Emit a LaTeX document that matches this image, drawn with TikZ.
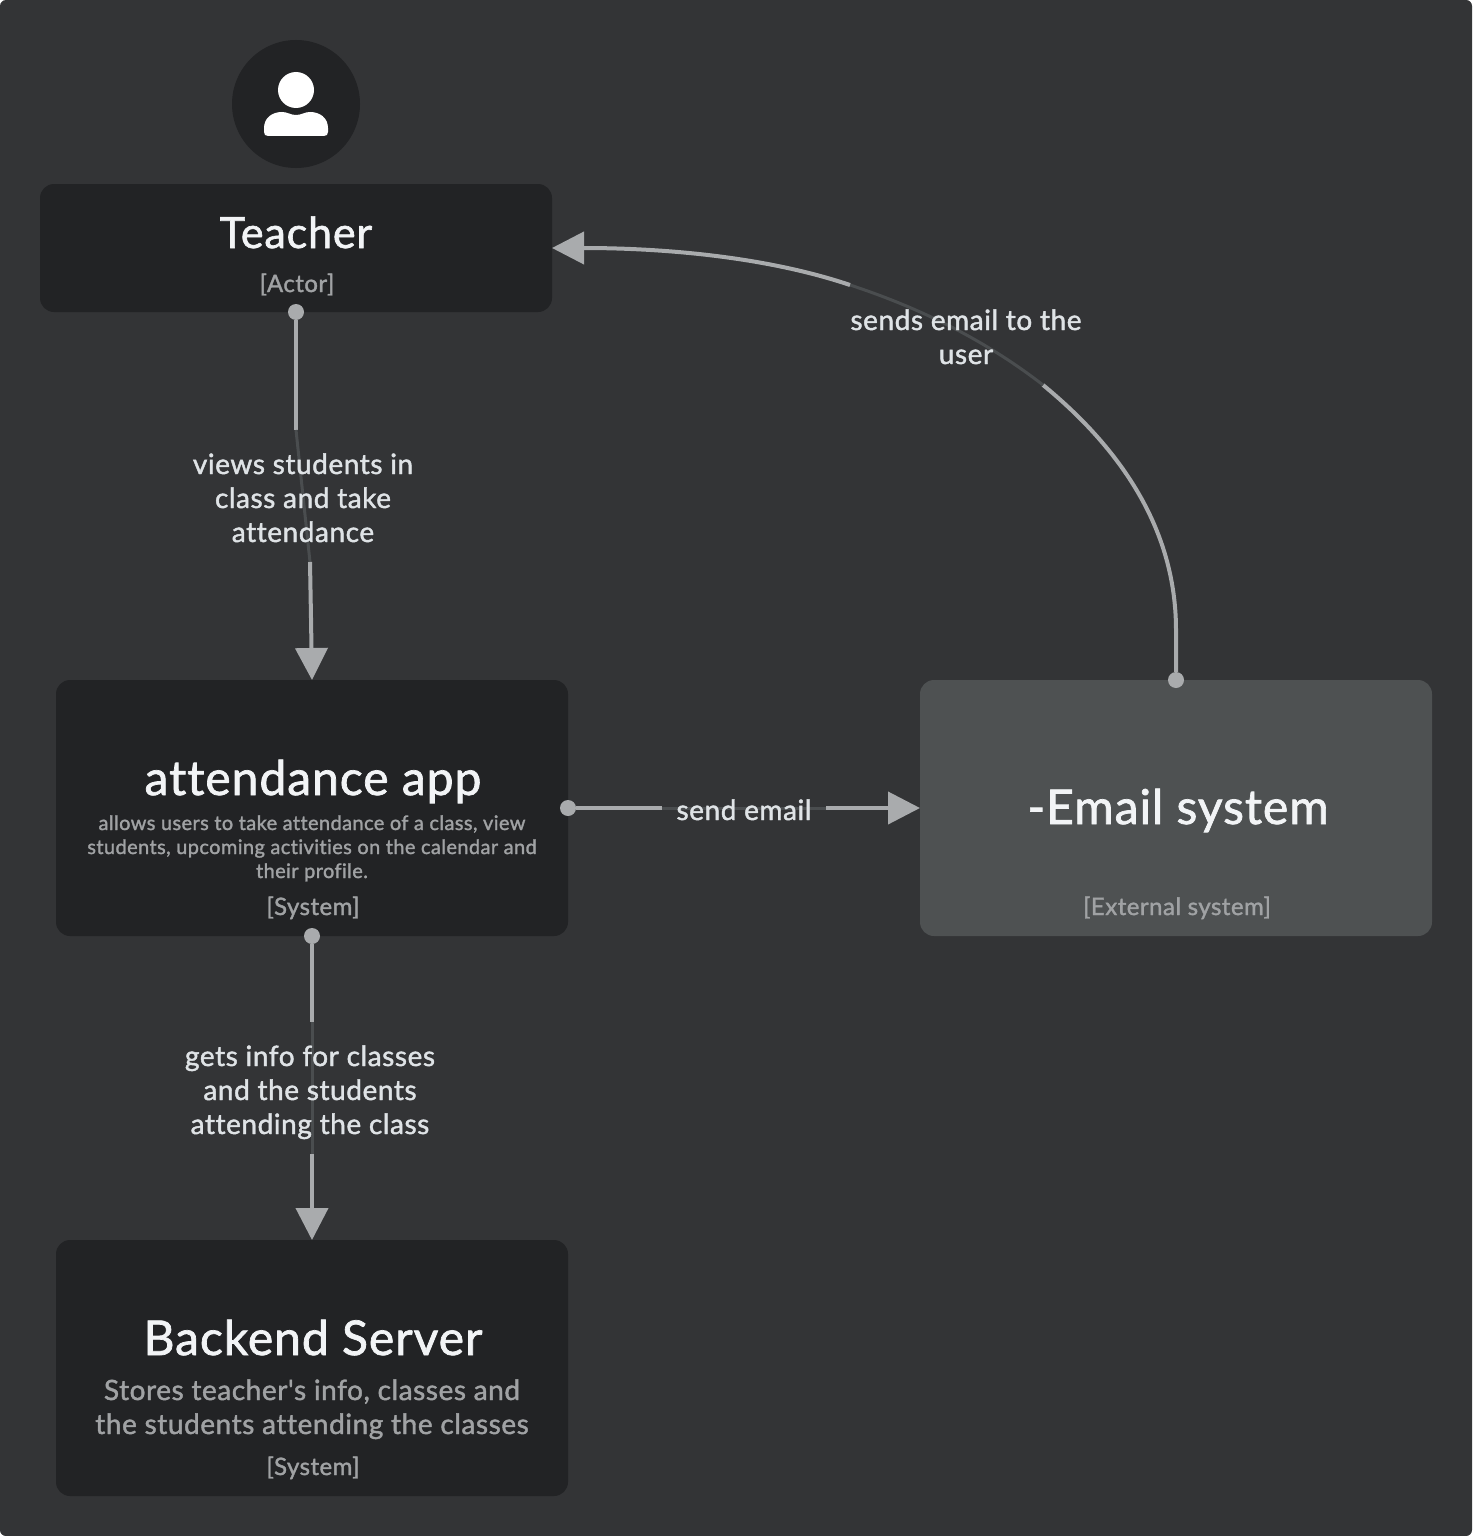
\documentclass[tikz,border=0pt]{standalone}
\usepackage{fontspec}
\newfontfamily\latofont{Lato}[Ligatures=NoCommon,LetterSpace=2,FakeBold=1.5]
\usepackage{xcolor}
\usetikzlibrary{arrows.meta,positioning}
\definecolor{canvas}{HTML}{333436}
\definecolor{boxdark}{HTML}{222325}
\definecolor{boxgrey}{HTML}{4E5152}
\definecolor{wire}{HTML}{A9ABAD}
\definecolor{wiredim}{HTML}{4A4D4F}
\definecolor{titleink}{HTML}{F2F4F6}
\definecolor{edgeink}{HTML}{DFE3E6}
\definecolor{noteink}{HTML}{A0A2A4}

\begin{document}
\begin{tikzpicture}[x=1pt,y=-1pt,
		card/.style={rectangle, fill=boxdark, minimum width=512pt, minimum height=256pt,
				inner sep=0pt, outer sep=0pt, rounded corners=14pt},
		extcard/.style={card, fill=boxgrey},
		titletext/.style={text=titleink, anchor=base, inner sep=0pt, font=\latofont\fontsize{48}{54}\selectfont},
		typetext/.style={text=noteink, anchor=base, inner sep=0pt, font=\latofont\fontsize{24}{28}\selectfont},
		smallnote/.style={text=noteink, anchor=base, inner sep=0pt, align=center, font=\latofont\fontsize{20}{24}\selectfont},
		bignote/.style={text=noteink, anchor=base, inner sep=0pt, align=center, font=\latofont\fontsize{28}{34}\selectfont},
		edgelabel/.style={text=edgeink, anchor=base, inner sep=0pt, align=center, font=\latofont\fontsize{28}{34}\selectfont},
		wireline/.style={draw=wire, line width=4pt},
		dimline/.style={draw=wiredim, line width=3pt},
		arrow/.style={wireline, -{Triangle[length=32pt,width=32pt]}},
		dot/.style={circle, fill=wire, minimum size=16pt, inner sep=0pt}
	]
	\useasboundingbox (0,0) rectangle (1472,1536);
	\fill[white] (0,0) rectangle (1472,1536);
	\fill[canvas, rounded corners=6pt] (0,0) rectangle (1472,1536);

	% Teacher
	\node[circle, fill=boxdark, minimum size=128pt, inner sep=0pt] (avatar) at (296,104) {};
	\fill[white] (296,90) circle (18pt);
	\fill[white] (268,136) .. controls (265.5,136) and (264,134.5) .. (264,132) -- (264,128)
		.. controls (264,118) and (272,112) .. (282,112)
		.. controls (288,112) and (290,115) .. (296,115)
		.. controls (302,115) and (304,112) .. (310,112)
		.. controls (320,112) and (328,118) .. (328,128) -- (328,132)
		.. controls (328,134.5) and (326.5,136) .. (324,136) -- cycle;
	\node[card, minimum height=128pt] (teacher) at (296,248) {};
	\node[titletext, font=\latofont\fontsize{43}{54}\selectfont] (teacherTitle) at (296,248) {Teacher};
	\node[typetext] (teacherType) at (297,292) {[Actor]};

	% Systems
	\node[card, below=368pt of teacher, xshift=16pt] (attendance) {};
	\node[titletext] (attendanceTitle) at (313,795) {attendance app};
	\node[smallnote] (attendanceNote) at (312,878) {allows users to take attendance of a class, view\\students, upcoming activities on the calendar and\\their profile.};
	\node[typetext] (attendanceType) at (313,915) {[System]};

	\node[extcard, right=352pt of attendance] (email) {};
	\node[titletext] (emailTitle) at (1178,824) {-Email system};
	\node[typetext] (emailType) at (1177,915) {[External system]};

	\node[card, below=304pt of attendance] (backend) {};
	\node[titletext] (backendTitle) at (313,1355) {Backend Server};
	\node[bignote] (backendNote) at (312,1434) {Stores teacher's info, classes and\\the students attending the classes};
	\node[typetext] (backendType) at (313,1475) {[System]};

	% Connections
	\node[dot] (teacherDot) at (teacher.south) {};
	\node[dot] (attendanceDot) at (attendance.south) {};
	\node[dot] (sendDot) at (attendance.east) {};
	\node[dot] (emailDot) at (email.north) {};

	\coordinate (viewA) at (296,430);
	\coordinate (viewB) at (310,562);
	\draw[wireline] (teacherDot) -- (viewA);
	\draw[dimline] (viewA) -- (viewB);
	\draw[arrow] (viewB) -- (311,618) -- (attendance.north);

	\coordinate (infoA) at (312,1022);
	\coordinate (infoB) at (312,1154);
	\draw[wireline] (attendanceDot) -- (infoA);
	\draw[dimline] (infoA) -- (infoB);
	\draw[arrow] (infoB) -- (backend.north);

	\coordinate (sendA) at (662,808);
	\coordinate (sendB) at (826,808);
	\draw[wireline] (sendDot) -- (sendA);
	\draw[dimline] (sendA) -- (sendB);
	\draw[arrow] (sendB) -- (email.west);

	\coordinate (mailA) at (1043,385);
	\coordinate (mailB) at (850,285);
	\draw[wireline] (emailDot) -- (1176,630) .. controls (1176,520) and (1110,440) .. (mailA);
	\draw[dimline] (mailA) .. controls (985,340) and (920,308) .. (mailB);
	\draw[arrow] (mailB) .. controls (770,258) and (670,248) .. (teacher.east);

	\node[edgelabel] (viewLabel) at (303,542) {views students in\\class and take\\attendance};
	\node[edgelabel] (infoLabel) at (310,1134) {gets info for classes\\and the students\\attending the class};
	\node[edgelabel] (sendLabel) at (744,820) {send email};
	\node[edgelabel] (mailLabel) at (966,364) {sends email to the\\user};
\end{tikzpicture}
\end{document}
